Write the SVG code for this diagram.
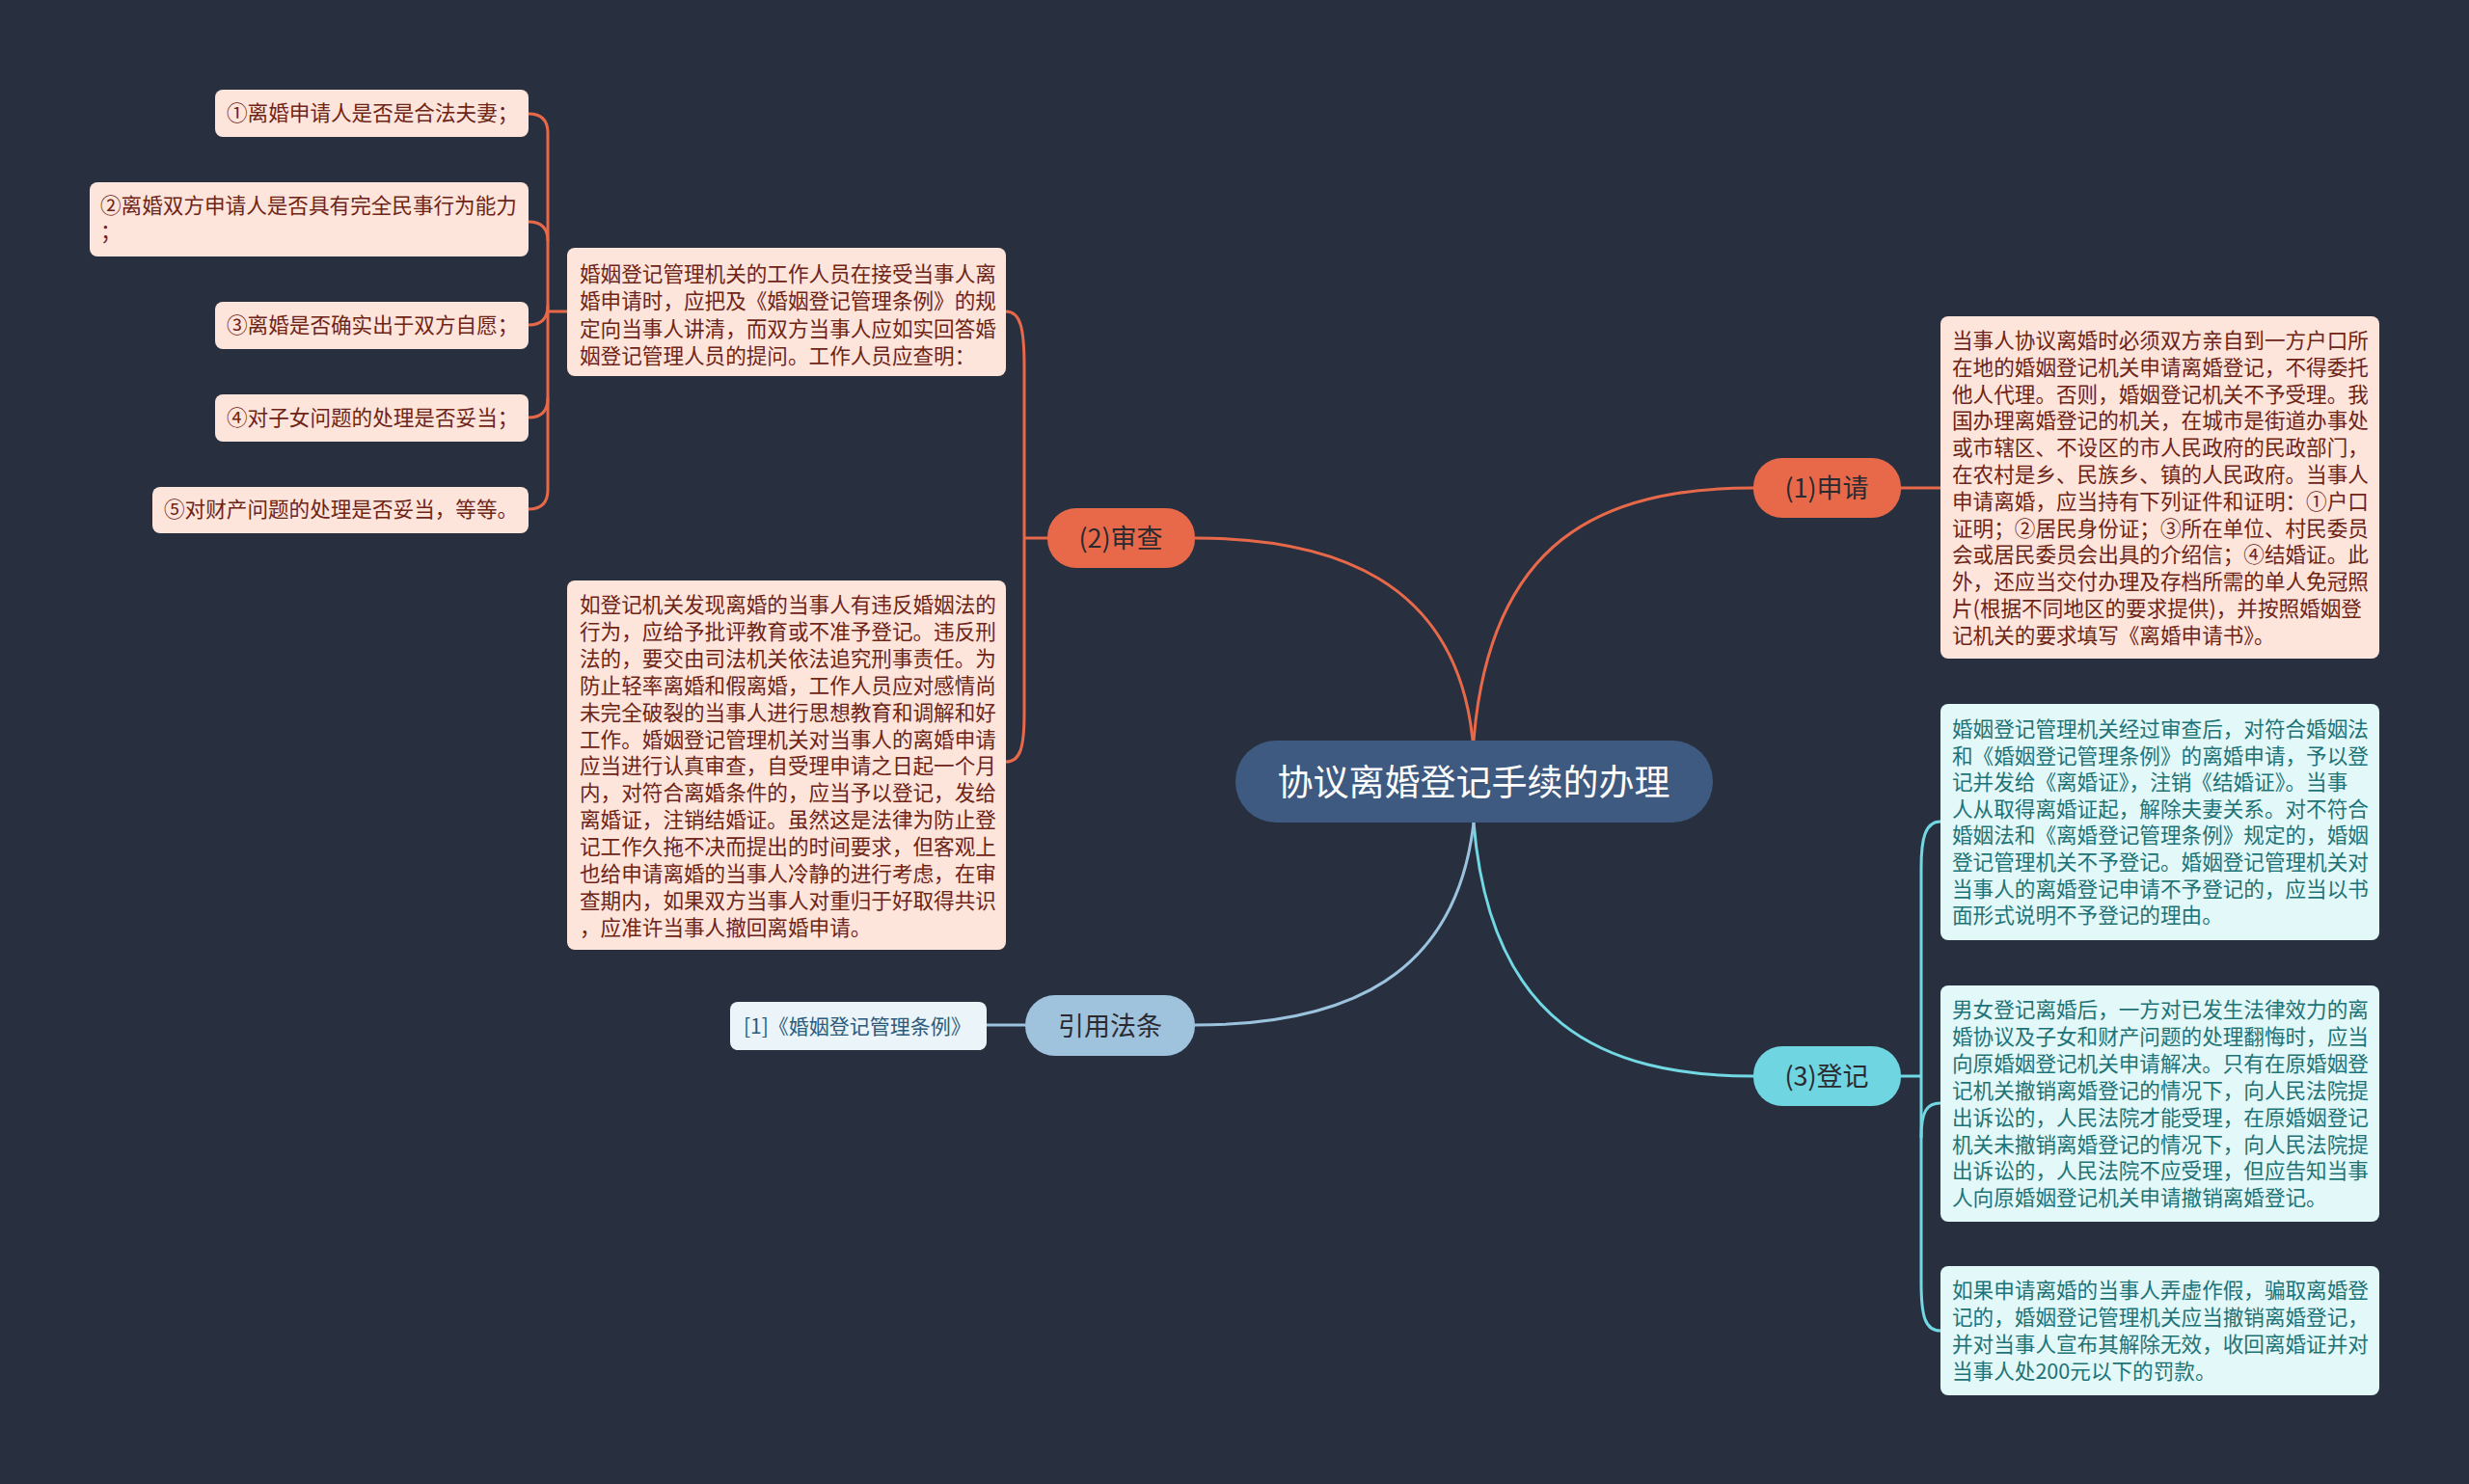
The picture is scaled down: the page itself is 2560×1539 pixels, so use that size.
<svg xmlns="http://www.w3.org/2000/svg" width="2560" height="1539" viewBox="0 0 2560 1539">
<style>
text{font-family:'Noto Sans CJK SC','Noto Sans',sans-serif}
.peach{fill:#fde5dc}
.pt{fill:#6e2416;font-size:21.6px}
.cyanbox{fill:#e2f8f9}
.ct{fill:#1e7377;font-size:21.6px}
.lo{fill:none;stroke:#e8694a;stroke-width:3}
.lc{fill:none;stroke:#72d8e3;stroke-width:3}
.lb{fill:none;stroke:#9cc3de;stroke-width:3}
.nt{font-size:27px;fill:#2a2a30;text-anchor:middle}
</style>
<rect width="2560" height="1539" fill="#283040"/>
<g id="connectors">
<path class="lo" d="M1528,768 C1545,560 1660,506 1818,506"/>
<path class="lo" d="M1527,768 C1510,600 1380,558 1239,558"/>
<path class="lc" d="M1528,853 C1545,1060 1660,1116 1818,1116"/>
<path class="lb" d="M1528,853 C1510,1010 1400,1063 1239,1063"/>
<path class="lb" d="M1063,1063 L1023,1063"/>
<path class="lo" d="M1971,506 L2012,506"/>
<path class="lo" d="M1043,323 C1058,323 1062,340 1062,380 L1062,740 C1062,775 1058,790 1043,790"/>
<path class="lo" d="M1062,558 L1086,558"/>
<path class="lo" d="M548,118 Q568,118 568,138 L568,508 Q568,528 548,528"/>
<path class="lo" d="M548,230 Q568,230 568,250"/>
<path class="lo" d="M548,337 Q568,337 568,317"/>
<path class="lo" d="M548,433 Q568,433 568,413"/>
<path class="lo" d="M568,323 L588,323"/>
<path class="lc" d="M2012,852 C1996,852 1992,870 1992,900 L1992,1330 C1992,1365 1996,1380 2012,1380"/>
<path class="lc" d="M1971,1116 L1992,1116"/>
<path class="lc" d="M1992,1180 C1992,1152 1998,1144 2012,1144"/>
</g>
<g id="center">
<rect x="1281" y="768" width="495" height="85" rx="42" fill="#3e5a80"/>
<text x="1528" y="825" font-size="37" fill="#ffffff" text-anchor="middle">协议离婚登记手续的办理</text>
</g>
<g id="n1">
<rect x="1818" y="475" width="153" height="62" rx="30" fill="#e8694a"/>
<text class="nt" x="1894" y="516">(1)申请</text>
</g>
<g id="n2">
<rect x="1086" y="527" width="153" height="62" rx="30" fill="#e8694a"/>
<text class="nt" x="1162" y="568">(2)审查</text>
</g>
<g id="n3">
<rect x="1818" y="1085" width="153" height="62" rx="30" fill="#6fd5e0"/>
<text class="nt" x="1894" y="1126">(3)登记</text>
</g>
<g id="n4">
<rect x="1063" y="1032" width="176" height="63" rx="31" fill="#9fc3dc"/>
<text class="nt" x="1151" y="1074">引用法条</text>
</g>
<g id="ref">
<rect x="757" y="1039" width="266" height="50" rx="8" fill="#eaf4f9"/>
<text x="771" y="1072" font-size="21" fill="#2c5a7a">[1]《婚姻登记管理条例》</text>
</g>
<g id="leaf1">
<rect class="peach" x="223" y="93" width="325" height="49" rx="8"/>
<text class="pt" x="235" y="125">①离婚申请人是否是合法夫妻；</text>
</g>
<g id="leaf2">
<rect class="peach" x="93" y="189" width="455" height="77" rx="8"/>
<text class="pt" x="104" y="221">②离婚双方申请人是否具有完全民事行为能力<tspan x="104" dy="27">；</tspan></text>
</g>
<g id="leaf3">
<rect class="peach" x="223" y="313" width="325" height="49" rx="8"/>
<text class="pt" x="235" y="345">③离婚是否确实出于双方自愿；</text>
</g>
<g id="leaf4">
<rect class="peach" x="223" y="409" width="325" height="49" rx="8"/>
<text class="pt" x="235" y="441">④对子女问题的处理是否妥当；</text>
</g>
<g id="leaf5">
<rect class="peach" x="158" y="505" width="390" height="48" rx="8"/>
<text class="pt" x="170" y="536">⑤对财产问题的处理是否妥当，等等。</text>
</g>
<g id="review1">
<rect class="peach" x="588" y="257" width="455" height="133" rx="8"/>
<text class="pt" x="601" y="292">婚姻登记管理机关的工作人员在接受当事人离<tspan x="601" dy="28.4">婚申请时，应把及《婚姻登记管理条例》的规</tspan><tspan x="601" dy="28.4">定向当事人讲清，而双方当事人应如实回答婚</tspan><tspan x="601" dy="28.4">姻登记管理人员的提问。工作人员应查明：</tspan></text>
</g>
<g id="review2">
<rect class="peach" x="588" y="602" width="455" height="383" rx="8"/>
<text class="pt" x="601" y="635">如登记机关发现离婚的当事人有违反婚姻法的<tspan x="601" dy="27.9">行为，应给予批评教育或不准予登记。违反刑</tspan><tspan x="601" dy="27.9">法的，要交由司法机关依法追究刑事责任。为</tspan><tspan x="601" dy="27.9">防止轻率离婚和假离婚，工作人员应对感情尚</tspan><tspan x="601" dy="27.9">未完全破裂的当事人进行思想教育和调解和好</tspan><tspan x="601" dy="27.9">工作。婚姻登记管理机关对当事人的离婚申请</tspan><tspan x="601" dy="27.9">应当进行认真审查，自受理申请之日起一个月</tspan><tspan x="601" dy="27.9">内，对符合离婚条件的，应当予以登记，发给</tspan><tspan x="601" dy="27.9">离婚证，注销结婚证。虽然这是法律为防止登</tspan><tspan x="601" dy="27.9">记工作久拖不决而提出的时间要求，但客观上</tspan><tspan x="601" dy="27.9">也给申请离婚的当事人冷静的进行考虑，在审</tspan><tspan x="601" dy="27.9">查期内，如果双方当事人对重归于好取得共识</tspan><tspan x="601" dy="27.9">，应准许当事人撤回离婚申请。</tspan></text>
</g>
<g id="apply1">
<rect class="peach" x="2012" y="328" width="455" height="355" rx="8"/>
<text class="pt" x="2024" y="361">当事人协议离婚时必须双方亲自到一方户口所<tspan x="2024" dy="27.8">在地的婚姻登记机关申请离婚登记，不得委托</tspan><tspan x="2024" dy="27.8">他人代理。否则，婚姻登记机关不予受理。我</tspan><tspan x="2024" dy="27.8">国办理离婚登记的机关，在城市是街道办事处</tspan><tspan x="2024" dy="27.8">或市辖区、不设区的市人民政府的民政部门，</tspan><tspan x="2024" dy="27.8">在农村是乡、民族乡、镇的人民政府。当事人</tspan><tspan x="2024" dy="27.8">申请离婚，应当持有下列证件和证明：①户口</tspan><tspan x="2024" dy="27.8">证明；②居民身份证；③所在单位、村民委员</tspan><tspan x="2024" dy="27.8">会或居民委员会出具的介绍信；④结婚证。此</tspan><tspan x="2024" dy="27.8">外，还应当交付办理及存档所需的单人免冠照</tspan><tspan x="2024" dy="27.8">片(根据不同地区的要求提供)，并按照婚姻登</tspan><tspan x="2024" dy="27.8">记机关的要求填写《离婚申请书》。</tspan></text>
</g>
<g id="reg1">
<rect class="cyanbox" x="2012" y="730" width="455" height="245" rx="8"/>
<text class="ct" x="2024" y="764">婚姻登记管理机关经过审查后，对符合婚姻法<tspan x="2024" dy="27.6">和《婚姻登记管理条例》的离婚申请，予以登</tspan><tspan x="2024" dy="27.6">记并发给《离婚证》，注销《结婚证》。当事</tspan><tspan x="2024" dy="27.6">人从取得离婚证起，解除夫妻关系。对不符合</tspan><tspan x="2024" dy="27.6">婚姻法和《离婚登记管理条例》规定的，婚姻</tspan><tspan x="2024" dy="27.6">登记管理机关不予登记。婚姻登记管理机关对</tspan><tspan x="2024" dy="27.6">当事人的离婚登记申请不予登记的，应当以书</tspan><tspan x="2024" dy="27.6">面形式说明不予登记的理由。</tspan></text>
</g>
<g id="reg2">
<rect class="cyanbox" x="2012" y="1022" width="455" height="245" rx="8"/>
<text class="ct" x="2024" y="1055">男女登记离婚后，一方对已发生法律效力的离<tspan x="2024" dy="27.9">婚协议及子女和财产问题的处理翻悔时，应当</tspan><tspan x="2024" dy="27.9">向原婚姻登记机关申请解决。只有在原婚姻登</tspan><tspan x="2024" dy="27.9">记机关撤销离婚登记的情况下，向人民法院提</tspan><tspan x="2024" dy="27.9">出诉讼的，人民法院才能受理，在原婚姻登记</tspan><tspan x="2024" dy="27.9">机关未撤销离婚登记的情况下，向人民法院提</tspan><tspan x="2024" dy="27.9">出诉讼的，人民法院不应受理，但应告知当事</tspan><tspan x="2024" dy="27.9">人向原婚姻登记机关申请撤销离婚登记。</tspan></text>
</g>
<g id="reg3">
<rect class="cyanbox" x="2012" y="1313" width="455" height="134" rx="8"/>
<text class="ct" x="2024" y="1346">如果申请离婚的当事人弄虚作假，骗取离婚登<tspan x="2024" dy="27.9">记的，婚姻登记管理机关应当撤销离婚登记，</tspan><tspan x="2024" dy="27.9">并对当事人宣布其解除无效，收回离婚证并对</tspan><tspan x="2024" dy="27.9">当事人处200元以下的罚款。</tspan></text>
</g>
</svg>
